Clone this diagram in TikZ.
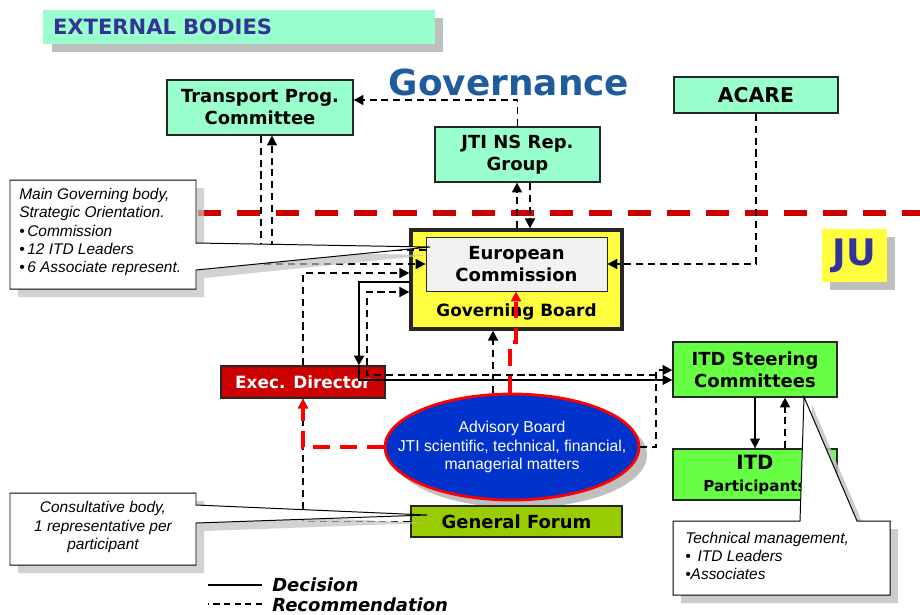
\documentclass[tikz,border=0pt]{standalone}
\usepackage{fontspec}
\setmainfont{Liberation Sans}
\newfontfamily\tahoma{DejaVu Sans}
\usetikzlibrary{arrows.meta,shapes.geometric}

\definecolor{mint}{HTML}{99FFCC}
\definecolor{indigo}{HTML}{333399}
\definecolor{govblue}{HTML}{1F5C9E}
\definecolor{juyellow}{HTML}{FFFF40}
\definecolor{ecgray}{HTML}{F2F2F2}
\definecolor{edred}{HTML}{CC0000}
\definecolor{scgreen}{HTML}{66FF44}
\definecolor{gfgreen}{HTML}{99CC00}
\definecolor{abblue}{HTML}{0033CC}
\definecolor{shadowgray}{HTML}{BFBFBF}

\newcommand{\pxu}{0.025cm}

\tikzset{
  box/.style={draw=black!85, line width=0.9pt, fill=mint, inner sep=0pt, align=center,
    font=\tahoma\bfseries\fontsize{12.8}{15.6}\selectfont},
  rec/.style={draw=black, line width=1.4pt, dash pattern=on 5pt off 3.5pt,
    -{Triangle[length=7pt,width=7pt]}},
  dec/.style={draw=black, line width=1pt, -{Triangle[length=7pt,width=7pt]}},
  adv/.style={draw=red, line width=2.6pt, dash pattern=on 12pt off 7pt,
    -{Triangle[length=7pt,width=7pt]}},
  sepline/.style={draw=edred, line width=4.3pt, dash pattern=on 16.4pt off 11.4pt},
  callout/.style={draw=black, fill=white, line width=0.7pt},
  calltext/.style={font=\itshape\fontsize{11}{13.1}\selectfont, inner sep=0pt},
  legend/.style={font=\tahoma\bfseries\itshape\fontsize{12.8}{15}\selectfont, inner sep=0pt}
}

\begin{document}
\begin{tikzpicture}[x=\pxu,y=-\pxu]
\useasboundingbox (0,0) rectangle (920,614);

% JU border
\draw[sepline] (198,213) -- (920,213);

% headings
\fill[shadowgray] (52,18) rectangle (443,52);
\node[fill=mint, text width=372*\pxu, inner xsep=10*\pxu, inner ysep=0pt,
  minimum height=34*\pxu, align=left, text=indigo,
  font=\tahoma\bfseries\fontsize{15}{18}\selectfont] (ext) at (239,27) {EXTERNAL BODIES};
\node[text=govblue, font=\tahoma\bfseries\fontsize{25.5}{30}\selectfont] (gov) at (509,82) {Governance};
\fill[shadowgray] (830,237) rectangle (895,290);
\node[fill=juyellow, minimum width=65*\pxu, minimum height=53*\pxu, text=indigo,
  font=\tahoma\bfseries\fontsize{26}{30}\selectfont] (ju) at (854.5,255.5) {JU};

% bodies
\node[box, minimum width=186*\pxu, minimum height=55*\pxu] (tpc) at (260,107.5) {Transport Prog.\\Committee};
\node[box, minimum width=165*\pxu, minimum height=55*\pxu] (jti) at (517.5,154.5) {JTI NS Rep.\\Group};
\node[box, minimum width=164*\pxu, minimum height=36*\pxu,
  font=\tahoma\bfseries\fontsize{14.5}{17}\selectfont] (acare) at (756,95) {ACARE};
\node[box, fill=juyellow, line width=2.4pt, minimum width=211*\pxu, minimum height=99*\pxu] (gb) at (516.5,279.5) {};
\node[box, fill=ecgray, line width=0.6pt, minimum width=181*\pxu, minimum height=54*\pxu] (ec) at (516.5,264) {European\\Commission};
\node[font=\tahoma\bfseries\fontsize{12}{14}\selectfont] (gbl) at (516.5,312) {Governing Board};
\node[box, fill=edred, text=white, minimum width=164*\pxu, minimum height=32*\pxu,
  font=\tahoma\bfseries\fontsize{12}{14}\selectfont] (ed) at (303,382) {Exec. Director};
\node[box, fill=scgreen, minimum width=164*\pxu, minimum height=55*\pxu] (itdsc) at (755,369.5) {ITD Steering\\Committees};
\node[box, fill=scgreen, minimum width=164*\pxu, minimum height=51*\pxu] (itdp) at (755,474.5)
  {{\fontsize{14}{16}\selectfont ITD}\\{\fontsize{10.8}{13}\selectfont Participants}};
\fill[shadowgray] (520,455) ellipse [x radius=3.175cm, y radius=1.325cm];
\node[ellipse, draw=red, line width=2pt, fill=abblue, minimum width=254*\pxu,
  minimum height=106*\pxu, inner sep=0pt] (ab) at (512,447) {};
\node[text=white, align=center, inner sep=0pt, font=\fontsize{11.2}{13.2}\selectfont] (abt) at (ab.center)
  {Advisory Board\\JTI scientific, technical, financial,\\managerial matters};
\node[box, fill=gfgreen, minimum width=211*\pxu, minimum height=31*\pxu] (gf) at (516.5,521.5) {General Forum};

% recommendations and decisions
\draw[rec] (jti.north) |- (tpc.east |- 0,100);
\draw[rec] (tpc.south -| 261,0) |- (ec.west |- 0,264);
\draw[rec] (ec.west |- 0,250) -| (tpc.south -| 272,0);
\draw[rec] (gb.north -| 517,0) -- (jti.south -| 517,0);
\draw[rec] (jti.south -| 530,0) -- (gb.north -| 530,0);
\draw[rec] (acare.south) |- (ec.east |- 0,264);
\draw[rec] (ed.north) |- (gb.west |- 0,273);
\draw[dec, line width=1.8pt] (gb.west |- 0,282) -| (ed.north -| 359,0);
\draw[dec] (ed.north -| 359,0) |- (itdsc.west |- 0,380);
\coordinate (j1) at (656,375);
\draw[rec] (j1) -| (367,292) -- (gb.west |- 0,292);
\draw[rec] (ab.east) -| (656,370) -- (itdsc.west |- 0,370);
\draw[rec] (ab.north -| 493,0) -- (gb.south -| 493,0);
\draw[rec] (gf.west) -| (ed.south);
\draw[adv] (ab.north -| 510,0) |- (516,342) -- (ec.south -| 516,0);
\draw[adv] (ab.west) -| (ed.south);
\draw[dec] (itdsc.south) -- (itdp.north);
\draw[rec] (itdp.north -| 785,0) -- (itdsc.south -| 785,0);

% notes
\fill[shadowgray, opacity=.7] (18,188) -- (204,188) -- (204,251) -- (430,255) -- (204,278) -- (204,297) -- (18,297) -- cycle;
\draw[callout] (10,180) -- (196,180) -- (196,243) -- (430,247) -- (196,270) -- (196,289) -- (10,289) -- cycle;
\node[calltext, anchor=west, align=left] (cgov) at (19,232)
  {Main Governing body,\\Strategic Orientation.\\•\,Commission\\•\,12 ITD Leaders\\•\,6 Associate represent.};

\fill[shadowgray, opacity=.7] (18,501) -- (204,501) -- (204,513) -- (427,523) -- (204,531) -- (204,573) -- (18,573) -- cycle;
\draw[callout] (10,493) -- (196,493) -- (196,505) -- (427,515) -- (196,523) -- (196,565) -- (10,565) -- cycle;
\node[calltext, align=center] (cgf) at (103,527) {Consultative body,\\1 representative per\\participant};

\fill[shadowgray, opacity=.8] (681,529) -- (808,529) -- (812,405) -- (865,529) -- (898,529) -- (898,603) -- (681,603) -- cycle;
\draw[callout] (673,521) -- (800,521) -- (804,397) -- (857,521) -- (890,521) -- (890,595) -- (673,595) -- cycle;
\node[calltext, anchor=west, align=left] (citd) at (685,556) {Technical management,\\•\, ITD Leaders\\•Associates};

% legend
\node[legend, anchor=west] (ldec) at (272,585) {Decision};
\node[legend, anchor=west] (lrec) at (272,605) {Recommendation};
\draw[line width=1.2pt] (ldec.west) ++(-10,0) -- ++(-54,0);
\draw[line width=1.2pt, dash pattern=on 4.5pt off 3pt] (lrec.west) ++(-10,-1) -- ++(-54,0);
\end{tikzpicture}
\end{document}
